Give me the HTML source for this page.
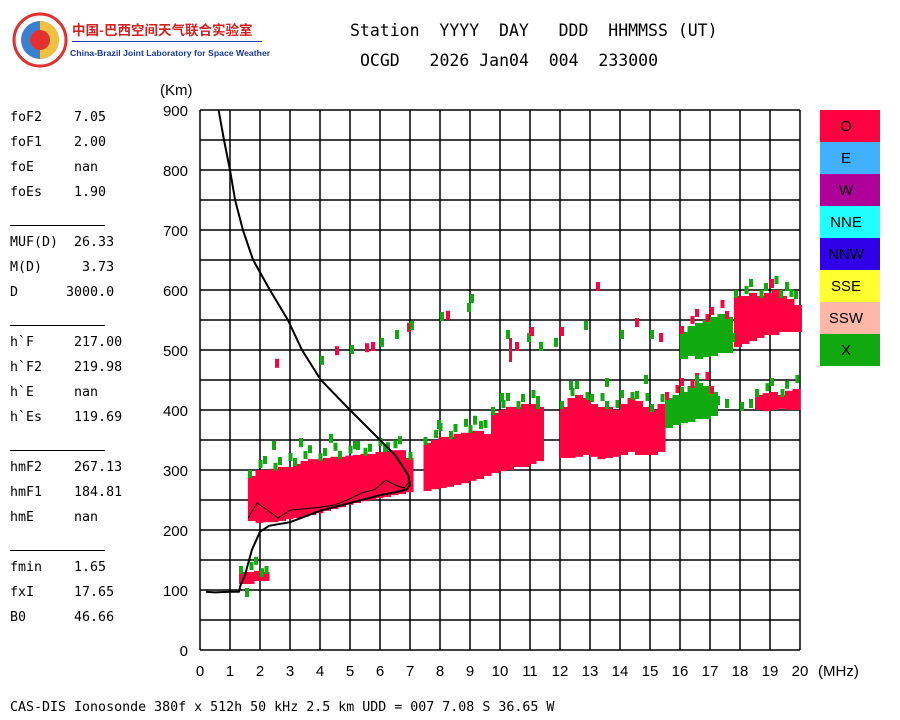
<!DOCTYPE html>
<html><head><meta charset="utf-8"><style>
body{margin:0;background:#fff;width:900px;height:720px;overflow:hidden;position:relative}
.m{font-family:"DejaVu Sans Mono","Liberation Mono",monospace;position:absolute;white-space:pre;color:#000}
.p{font-size:13.3px}
.hr{position:absolute;left:10px;width:95px;height:1px;background:#000}
</style></head><body>
<div style="position:absolute;left:12px;top:12px;width:56px;height:56px">
<svg width="56" height="56"><circle cx="28" cy="28" r="26" fill="#fff" stroke="#e03030" stroke-width="3"/><circle cx="28" cy="28" r="19" fill="#3a7fd0"/><path d="M28 9 A19 19 0 0 1 28 47 Z" fill="#f0c040"/><circle cx="28" cy="28" r="10" fill="#e03030"/></svg></div>
<div style="position:absolute;left:72px;top:19px;font:bold 13.5px 'Noto Sans CJK SC',sans-serif;color:#d02020">中国-巴西空间天气联合实验室</div>
<div style="position:absolute;left:72px;top:41px;width:190px;height:1px;background:#2040a0"></div>
<div style="position:absolute;left:70px;top:48px;font:bold 8.7px 'Liberation Sans',sans-serif;color:#1a3a9a">China-Brazil Joint Laboratory for Space Weather</div>
<div class="m" style="left:350px;top:21px;font-size:16.5px">Station  YYYY  DAY   DDD  HHMMSS (UT)</div>
<div class="m" style="left:360px;top:51px;font-size:16.5px">OCGD   2026 Jan04  004  233000</div>
<div>
<div class="m p" style="left:10px;top:110px">foF2    7.05</div>
<div class="m p" style="left:10px;top:135px">foF1    2.00</div>
<div class="m p" style="left:10px;top:160px">foE     nan</div>
<div class="m p" style="left:10px;top:185px">foEs    1.90</div>
<div class="hr" style="top:225px"></div>
<div class="m p" style="left:10px;top:235px">MUF(D)  26.33</div>
<div class="m p" style="left:10px;top:260px">M(D)     3.73</div>
<div class="m p" style="left:10px;top:285px">D      3000.0</div>
<div class="hr" style="top:325px"></div>
<div class="m p" style="left:10px;top:335px">h`F     217.00</div>
<div class="m p" style="left:10px;top:360px">h`F2    219.98</div>
<div class="m p" style="left:10px;top:385px">h`E     nan</div>
<div class="m p" style="left:10px;top:410px">h`Es    119.69</div>
<div class="hr" style="top:450px"></div>
<div class="m p" style="left:10px;top:460px">hmF2    267.13</div>
<div class="m p" style="left:10px;top:485px">hmF1    184.81</div>
<div class="m p" style="left:10px;top:510px">hmE     nan</div>
<div class="hr" style="top:550px"></div>
<div class="m p" style="left:10px;top:560px">fmin    1.65</div>
<div class="m p" style="left:10px;top:585px">fxI     17.65</div>
<div class="m p" style="left:10px;top:610px">B0      46.66</div>
</div>
<div class="m" style="left:10px;top:700px;font-size:13.3px">CAS-DIS Ionosonde 380f x 512h 50 kHz 2.5 km UDD = 007 7.08 S 36.65 W</div>
<svg id="chart" width="900" height="720" style="position:absolute;left:0;top:0"></svg>
<script>
const xTicks=[0,1,2,3,4,5,6,7,8,9,10,11,12,13,14,15,16,17,18,19,20];
const yTicks=[0,100,200,300,400,500,600,700,800,900];
const legendLabels=["O","E","W","NNE","NNW","SSE","SSW","X"];
const legendColors=["#ff0040","#40b0ff","#b0009a","#20ffff","#3000e8","#ffff30","#ffb8a8","#10aa10"];
const b1F=[1.6,1.85,2.1,2.35,2.6,2.85,3.1,3.35,3.6,3.85,4.1,4.35,4.6,4.85,5.1,5.35,5.6,5.85,6.1,6.35,6.6,6.85];
const b1Lo=[215,212,213,213,215,218,220,222,225,228,232,235,238,242,245,248,250,253,255,258,260,263];
const b1Hi=[290,300,300,302,305,305,310,315,318,318,320,322,322,324,325,327,327,330,333,333,333,320];
const b2F=[7.45,7.7,7.95,8.2,8.45,8.7,8.95,9.2,9.45];
const b2Lo=[265,268,270,272,275,278,282,285,290];
const b2Hi=[345,350,355,355,360,362,365,365,360];
const b3F=[9.7,9.95,10.2,10.45,10.7,10.95,11.2];
const b3Lo=[295,298,300,305,305,310,315];
const b3Hi=[395,400,405,405,410,410,405];
const b4F=[12,12.25,12.5,12.75,13,13.25,13.5,13.75,14,14.25,14.5,14.75,15,15.25];
const b4Lo=[320,320,322,325,322,318,320,322,325,330,325,325,325,330];
const b4Hi=[405,420,425,420,410,405,405,400,410,420,415,405,400,410];
const b5F=[15.5,15.75,16,16.25,16.5,16.75,17];
const b5Lo=[370,375,378,380,385,385,390];
const b5Hi=[420,425,430,440,445,440,430];
const b6F=[18.5,18.75,19,19.25,19.5,19.75];
const b6Lo=[400,398,400,402,400,400];
const b6Hi=[425,428,430,425,432,435];
const b7F=[16,16.25,16.5,16.75,17,17.25,17.5];
const b7Lo=[485,490,485,488,490,495,495];
const b7Hi=[530,540,545,550,555,560,555];
const b8F=[17.8,18.05,18.3,18.55,18.8,19.05,19.3,19.55,19.8];
const b8Lo=[505,510,515,520,525,525,530,530,530];
const b8Hi=[590,590,595,590,595,600,590,585,575];
const b9F=[1.3,1.55,1.8,2.05];
const b9Lo=[110,110,115,115];
const b9Hi=[130,130,132,130];
const ptF=[2.5,4.0,4.5,5.0,5.5,5.7,6.0,6.5,6.9,7.0,8.0,8.2,8.9,9.0,10.2,10.5,10.9,11.0,11.3,12.0,12.8,13.2,14.0,14.5,15.0,15.3,11.8,16.0,17.5,18.0,18.3,17.2,19.0,2.4,3.3,4.3,5.2,6.2,7.9,9.1,10.0,11.2,12.3,13.5,14.8,16.5,17.7,19.5,2.0,1.5];
const ptH=[477,482,498,500,503,505,512,525,537,540,555,557,570,585,525,505,520,530,505,530,540,605,525,545,525,520,512,430,410,405,410,415,610,340,345,352,340,338,375,382,420,415,440,445,450,450,520,605,128,95];
const ptC=["r","g","r","g","r","r","g","g","r","g","g","r","g","g","g","r","g","r","g","r","g","r","g","r","g","r","g","g","g","g","g","g","r","g","g","g","g","g","g","g","g","g","g","g","g","g","g","g","g","g"];
const trF=[0.2,0.5,1.0,1.3,1.35,1.5,1.73,2.0,2.3,3.0,4.0,5.0,6.0,6.6,6.9,7.0,6.95,6.83,6.5,6.0,5.0,4.03,3.4,2.93,2.33,1.77,1.43,1.17,1.0,0.8,0.62];
const trH=[97,96,97,97,108,125,167,197,207,213,232,245,258,264,268,275,290,300,325,350,400,450,500,550,600,650,700,750,800,850,900];
const inF=[1.6,1.9,2.2,2.6,3.0,4.0,4.5,5.0,5.4,5.8,6.2,6.5,6.8,7.0];
const inH=[220,245,235,220,233,238,242,252,262,267,283,275,270,282];
const NS="http://www.w3.org/2000/svg";
const svg=document.getElementById('chart');
const X=f=>200+f*30, Y=h=>650-h*0.6;
function mk(t,a){const e=document.createElementNS(NS,t);for(const k in a)e.setAttribute(k,a[k]);svg.appendChild(e);return e;}
for(const t of xTicks){const l=mk('line',{x1:X(t),x2:X(t),y1:110,y2:650,stroke:'#000','stroke-width':1.5});


const tx=mk('text',{x:X(t),y:676,'text-anchor':'middle','font-family':'Liberation Sans,sans-serif','font-size':15});tx.textContent=t;

}
for(let h=0;h<=900;h+=50){const l=mk('line',{x1:200,x2:800,y1:Y(h),y2:Y(h),stroke:'#000','stroke-width':1.5});

}
for(const t of yTicks){const tx=mk('text',{x:188,y:Y(t)+6,'text-anchor':'end','font-family':'Liberation Sans,sans-serif','font-size':15});tx.textContent=t;

}
let u=mk('text',{x:160,y:95,'font-family':'Liberation Sans,sans-serif','font-size':15});u.textContent='(Km)';


u=mk('text',{x:818,y:676,'font-family':'Liberation Sans,sans-serif','font-size':15});u.textContent='(MHz)';


const R="#ff0040",G="#10aa10";
function band(F,Lo,Hi,col,cap){for(let i=0;i<F.length;i++){const r=mk('rect',{x:X(F[i]),y:Y(Hi[i]),width:8,height:Y(Lo[i])-Y(Hi[i]),fill:col});


if(cap){const c=mk('rect',{x:X(F[i])+(i%2)*3,y:Y(Hi[i])-(i%3)*4-6,width:4,height:8,fill:cap});

}}}
band(b1F,b1Lo,b1Hi,R,G);band(b2F,b2Lo,b2Hi,R,G);band(b3F,b3Lo,b3Hi,R,G);band(b4F,b4Lo,b4Hi,R,G);
band(b5F,b5Lo,b5Hi,G,R);band(b6F,b6Lo,b6Hi,R,G);band(b7F,b7Lo,b7Hi,G,R);band(b8F,b8Lo,b8Hi,R,G);band(b9F,b9Lo,b9Hi,R,G);
for(let i=0;i<ptF.length;i++){const r=mk('rect',{x:X(ptF[i]),y:Y(ptH[i])-5,width:4,height:9,fill:ptC[i]=="r"?R:G});

}
const vl=mk('rect',{x:X(10.3),y:Y(520),width:3,height:Y(480)-Y(520),fill:R});


let p=mk('polyline',{points:trF.map((f,i)=>X(f)+','+Y(trH[i])).join(' '),fill:'none',stroke:'#000','stroke-width':2,'stroke-linejoin':'round'});


p=mk('polyline',{points:inF.map((f,i)=>X(f)+','+Y(inH[i])).join(' '),fill:'none',stroke:'#000','stroke-width':1});


legendLabels.forEach((lab,i)=>{const r=mk('rect',{x:820,y:110+i*32,width:60,height:32,fill:legendColors[i]});


const t=mk('text',{x:846,y:131+i*32,'text-anchor':'middle','font-family':'Liberation Sans,sans-serif','font-size':15,fill:'#000'});t.textContent=lab;

});
</script>
</body></html>
